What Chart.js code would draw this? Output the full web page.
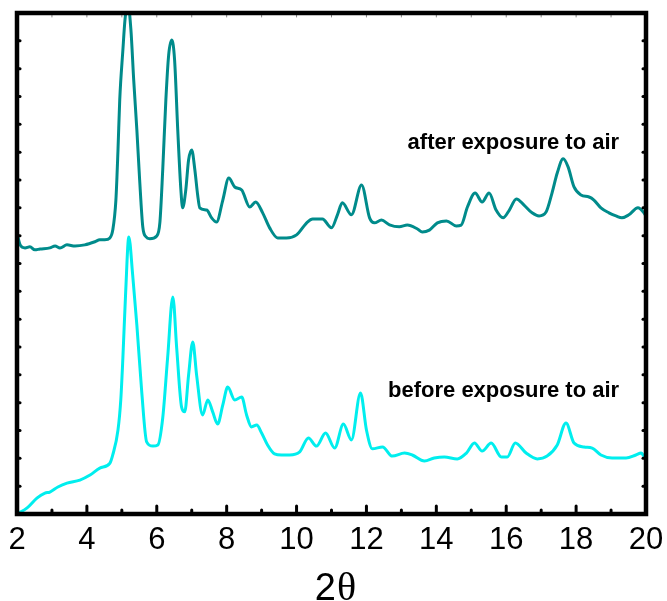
<!DOCTYPE html>
<html>
<head>
<meta charset="utf-8">
<title>PXRD before / after air exposure</title>
<script src="https://cdn.jsdelivr.net/npm/chart.js@4/dist/chart.umd.min.js"></script>
<style>
  html, body { margin: 0; padding: 0; background: #ffffff; overflow: hidden; }
  #wrap { width: 667px; height: 601px; position: relative; }
</style>
</head>
<body>
<div id="wrap"><canvas id="xrd"></canvas></div>
<script>
// 2θ positions and intensities (arbitrary units, stacked pattern offsets included)
const afterTwoTheta = [2.00, 2.09, 2.23, 2.37, 2.51, 2.66, 2.94, 3.09, 3.23, 3.43, 3.66, 3.94, 4.23, 4.37, 4.51, 4.66, 4.74, 4.83, 4.89, 4.94, 5.03, 5.09, 5.17, 5.26, 5.34, 5.43, 5.51, 5.60, 5.69, 5.80, 6.00, 6.09, 6.17, 6.26, 6.34, 6.43, 6.51, 6.60, 6.69, 6.74, 6.83, 6.91, 7.00, 7.09, 7.17, 7.23, 7.43, 7.57, 7.71, 7.89, 8.06, 8.23, 8.43, 8.66, 8.83, 9.03, 9.23, 9.46, 9.71, 10.00, 10.31, 10.46, 10.74, 11.00, 11.17, 11.31, 11.57, 11.86, 12.09, 12.23, 12.43, 12.66, 12.94, 13.17, 13.46, 13.60, 13.80, 14.03, 14.29, 14.57, 14.71, 14.89, 15.11, 15.31, 15.51, 15.71, 15.91, 16.09, 16.29, 16.51, 16.74, 16.94, 17.14, 17.31, 17.46, 17.63, 17.77, 17.94, 18.14, 18.37, 18.51, 18.71, 18.94, 19.14, 19.31, 19.51, 19.77, 19.94, 20.00];
const afterIntensity = [10.10, 9.67, 9.56, 9.60, 9.49, 9.52, 9.56, 9.63, 9.56, 9.67, 9.63, 9.67, 9.78, 9.85, 9.85, 9.92, 10.20, 11.28, 13.08, 14.88, 16.67, 17.75, 18.40, 17.39, 15.59, 13.80, 12.00, 10.31, 9.96, 9.89, 9.99, 10.49, 12.36, 14.88, 16.49, 17.03, 16.31, 13.80, 11.64, 11.00, 11.64, 12.72, 13.08, 12.36, 11.46, 11.00, 10.92, 10.64, 10.49, 11.28, 12.07, 11.75, 11.64, 11.03, 11.21, 10.82, 10.28, 9.92, 9.92, 10.03, 10.49, 10.60, 10.60, 10.28, 10.75, 11.18, 10.75, 11.82, 10.64, 10.46, 10.56, 10.39, 10.32, 10.38, 10.24, 10.13, 10.20, 10.46, 10.53, 10.35, 10.38, 11.03, 11.53, 11.21, 11.53, 10.92, 10.64, 10.92, 11.32, 11.10, 10.82, 10.71, 10.85, 11.53, 12.25, 12.76, 12.47, 11.75, 11.46, 11.39, 11.28, 11.00, 10.82, 10.71, 10.64, 10.75, 11.00, 10.82, 10.70];

const beforeTwoTheta = [2.00, 2.29, 2.57, 2.80, 2.94, 3.17, 3.43, 3.80, 4.09, 4.37, 4.66, 4.74, 4.89, 4.97, 5.03, 5.11, 5.20, 5.31, 5.43, 5.57, 5.71, 5.89, 6.03, 6.17, 6.31, 6.46, 6.57, 6.71, 6.80, 6.91, 7.03, 7.14, 7.31, 7.46, 7.60, 7.74, 7.89, 8.03, 8.23, 8.43, 8.57, 8.71, 8.86, 9.00, 9.17, 9.37, 9.57, 9.80, 10.09, 10.34, 10.57, 10.83, 11.09, 11.34, 11.57, 11.83, 12.00, 12.17, 12.46, 12.74, 13.09, 13.31, 13.66, 13.94, 14.23, 14.60, 14.86, 15.09, 15.31, 15.57, 15.86, 16.03, 16.26, 16.57, 16.89, 17.17, 17.46, 17.71, 17.94, 18.23, 18.46, 18.71, 19.03, 19.43, 19.71, 19.86, 19.94, 20.00];
const beforeIntensity = [0.00, 0.22, 0.57, 0.75, 0.79, 0.97, 1.11, 1.22, 1.40, 1.65, 1.83, 2.12, 3.02, 4.10, 5.61, 7.98, 9.95, 8.59, 6.79, 4.38, 2.59, 2.44, 2.48, 3.45, 5.61, 7.80, 5.96, 3.84, 3.67, 4.99, 6.18, 4.99, 3.56, 4.10, 3.67, 3.23, 3.92, 4.56, 4.10, 4.20, 3.56, 3.13, 3.20, 2.91, 2.48, 2.16, 2.12, 2.12, 2.23, 2.73, 2.44, 2.91, 2.37, 3.23, 2.66, 4.35, 3.02, 2.34, 2.41, 2.08, 2.19, 2.12, 1.90, 2.01, 2.05, 1.98, 2.19, 2.55, 2.26, 2.55, 2.05, 2.05, 2.55, 2.19, 1.98, 2.08, 2.48, 3.27, 2.55, 2.41, 2.37, 2.12, 2.01, 2.01, 2.12, 2.19, 2.08, 2.00];

const xTickValues = [2, 4, 6, 8, 10, 12, 14, 16, 18, 20];
const seriesLabels = ['after exposure to air', 'before exposure to air'];
const xTitleParts = ['2', '\u03b8'];

const toPoints = (xs, ys) => xs.map((x, i) => ({ x: x, y: ys[i] }));

// Frame with inward ticks on all four sides, curve captions and the 2θ axis title
const framePlugin = {
  id: 'frame',
  afterDraw(chart) {
    const { ctx, chartArea: a, scales } = chart;
    const xs = scales.x, ys = scales.y;
    ctx.save();
    ctx.strokeStyle = '#000';
    ctx.lineCap = 'round';

    // bottom axis: major ticks at even 2θ, minor at odd
    ctx.lineWidth = 3;
    for (let v = 2; v <= 20; v += 1) {
      const px = xs.getPixelForValue(v);
      const len = (v % 2 === 0) ? 8 : 4;
      ctx.beginPath();
      ctx.moveTo(px, a.bottom);
      ctx.lineTo(px, a.bottom - len);
      ctx.stroke();
    }
    // top axis: faint small ticks
    ctx.lineWidth = 1;
    ctx.strokeStyle = '#888';
    for (let v = 3; v < 20; v += 1) {
      const px = xs.getPixelForValue(v);
      ctx.beginPath();
      ctx.moveTo(px, a.top);
      ctx.lineTo(px, a.top + 4);
      ctx.stroke();
    }
    // left / right axes: short ticks every unit
    ctx.strokeStyle = '#000';
    ctx.lineWidth = 3;
    for (let v = 1; v < 18; v += 1) {
      const py = ys.getPixelForValue(v);
      ctx.beginPath();
      ctx.moveTo(a.left, py);
      ctx.lineTo(a.left + 3, py);
      ctx.stroke();
      ctx.beginPath();
      ctx.moveTo(a.right, py);
      ctx.lineTo(a.right - 3, py);
      ctx.stroke();
    }

    // frame
    ctx.lineWidth = 4.5;
    ctx.lineCap = 'butt';
    ctx.strokeRect(a.left, a.top, a.right - a.left, a.bottom - a.top);

    // captions
    ctx.fillStyle = '#000';
    ctx.font = 'bold 22px "Liberation Sans", Arial, sans-serif';
    ctx.textAlign = 'right';
    ctx.textBaseline = 'alphabetic';
    ctx.fillText(seriesLabels[0], xs.getPixelForValue(19.23), ys.getPixelForValue(13.1));
    ctx.fillText(seriesLabels[1], xs.getPixelForValue(19.23), ys.getPixelForValue(4.2));

    // axis title: sans "2" followed by a serif theta
    const sansFont = '38px "Liberation Sans", Arial, sans-serif';
    const serifFont = '40px "Liberation Serif", "Times New Roman", serif';
    ctx.font = sansFont;
    const w1 = ctx.measureText(xTitleParts[0]).width;
    ctx.font = serifFont;
    const w2 = ctx.measureText(xTitleParts[1]).width;
    const cx = xs.getPixelForValue(11.1);
    const x0 = cx - (w1 + w2) / 2;
    const baseY = a.bottom + 86;
    ctx.textAlign = 'left';
    ctx.font = sansFont;
    ctx.fillText(xTitleParts[0], x0, baseY);
    ctx.font = serifFont;
    ctx.fillText(xTitleParts[1], x0 + w1 + 1, baseY);
    ctx.restore();
  }
};

new Chart(document.getElementById('xrd'), {
  type: 'line',
  data: {
    datasets: [
      {
        label: seriesLabels[0],
        data: toPoints(afterTwoTheta, afterIntensity),
        borderColor: '#008b8b',
        borderWidth: 3,
        pointRadius: 0,
        cubicInterpolationMode: 'monotone',
        fill: false
      },
      {
        label: seriesLabels[1],
        data: toPoints(beforeTwoTheta, beforeIntensity),
        borderColor: '#00eeee',
        borderWidth: 3,
        pointRadius: 0,
        cubicInterpolationMode: 'monotone',
        fill: false
      }
    ]
  },
  options: {
    responsive: true,
    maintainAspectRatio: false,
    animation: false,
    layout: { padding: { left: 17, right: 21, top: 13, bottom: 0 } },
    plugins: { legend: { display: false }, tooltip: { enabled: false } },
    scales: {
      x: {
        type: 'linear',
        min: 2,
        max: 20,
        afterBuildTicks: (scale) => { scale.ticks = xTickValues.map(v => ({ value: v })); },
        afterFit: (scale) => {
          scale.height = 87;
          scale.paddingLeft = 0;
          scale.paddingRight = 0;
        },
        grid: { display: false, drawTicks: false },
        border: { display: false },
        ticks: {
          color: '#000',
          padding: 8,
          maxRotation: 0,
          autoSkip: false,
          font: { family: '"Liberation Sans", Arial, sans-serif', size: 31 }
        },
        title: { display: false }
      },
      y: {
        type: 'linear',
        min: 0,
        max: 18,
        display: false
      }
    }
  },
  plugins: [framePlugin]
});
</script>
</body>
</html>
